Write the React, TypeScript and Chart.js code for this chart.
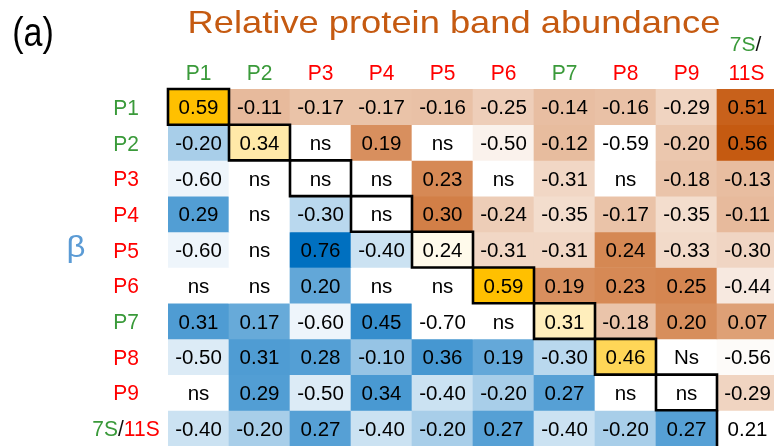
import React, { useEffect, useRef } from "react";
import { Chart, registerables } from "chart.js";

Chart.register(...registerables);

// ---- data ----
const columnLabels = ["P1", "P2", "P3", "P4", "P5", "P6", "P7", "P8", "P9", "7S/11S"];
const rowLabels = ["P1", "P2", "P3", "P4", "P5", "P6", "P7", "P8", "P9", "7S/11S"];
// label colour group: "g" green, "r" red, "m" mixed (7S green / 11S red)
const labelGroups = ["g", "g", "r", "r", "r", "r", "g", "r", "r", "m"];

const rowP1: (number | string)[] = [0.59, -0.11, -0.17, -0.17, -0.16, -0.25, -0.14, -0.16, -0.29, 0.51];
const rowP2: (number | string)[] = [-0.2, 0.34, "ns", 0.19, "ns", -0.5, -0.12, -0.59, -0.2, 0.56];
const rowP3: (number | string)[] = [-0.6, "ns", "ns", "ns", 0.23, "ns", -0.31, "ns", -0.18, -0.13];
const rowP4: (number | string)[] = [0.29, "ns", -0.3, "ns", 0.3, -0.24, -0.35, -0.17, -0.35, -0.11];
const rowP5: (number | string)[] = [-0.6, "ns", 0.76, -0.4, 0.24, -0.31, -0.31, 0.24, -0.33, -0.3];
const rowP6: (number | string)[] = ["ns", "ns", 0.2, "ns", "ns", 0.59, 0.19, 0.23, 0.25, -0.44];
const rowP7: (number | string)[] = [0.31, 0.17, -0.6, 0.45, -0.7, "ns", 0.31, -0.18, 0.2, 0.07];
const rowP8: (number | string)[] = [-0.5, 0.31, 0.28, -0.1, 0.36, 0.19, -0.3, 0.46, "Ns", -0.56];
const rowP9: (number | string)[] = ["ns", 0.29, -0.5, 0.34, -0.4, -0.2, 0.27, "ns", "ns", -0.29];
const row7S11S: (number | string)[] = [-0.4, -0.2, 0.27, -0.4, -0.2, 0.27, -0.4, -0.2, 0.27, 0.21];

const matrix = [rowP1, rowP2, rowP3, rowP4, rowP5, rowP6, rowP7, rowP8, rowP9, row7S11S];

const titleText = "Relative protein band abundance";
const panelText = "(a)";
const sideText = "β";

// ---- styles ----
const FONT = '"Liberation Sans", Arial, sans-serif';
const GREEN = "#3A9A3A";
const RED = "#FF0000";
const UPPER_COLOR = [197, 90, 17];
const LOWER_COLOR = [0, 112, 192];
const DIAG_COLOR = [255, 192, 0];

function mix(rgb: number[], t: number) {
  const k = Math.max(0, Math.min(1, t));
  const c = rgb.map((v) => Math.round(255 + (v - 255) * k));
  return `rgb(${c[0]},${c[1]},${c[2]})`;
}

function rangeOf(pred: (r: number, c: number) => boolean) {
  let mn = Infinity, mx = -Infinity;
  matrix.forEach((row, r) =>
    row.forEach((v, c) => {
      if (typeof v === "number" && pred(r, c)) {
        mn = Math.min(mn, v);
        mx = Math.max(mx, v);
      }
    })
  );
  return [mn, mx];
}

const upperRange = rangeOf((r, c) => c > r);
const lowerRange = rangeOf((r, c) => c < r);
const diagRange = rangeOf((r, c) => c === r);

function cellColor(r: number, c: number, v: number | string) {
  if (typeof v !== "number") return "#FFFFFF";
  let rng = diagRange, base = DIAG_COLOR;
  if (c > r) { rng = upperRange; base = UPPER_COLOR; }
  else if (c < r) { rng = lowerRange; base = LOWER_COLOR; }
  return mix(base, (v - rng[0]) / (rng[1] - rng[0]));
}

function fmt(v: number | string) {
  return typeof v === "number" ? v.toFixed(2) : v;
}

type Seg = { t: string; c: string };

function drawSegs(ctx: CanvasRenderingContext2D, segs: Seg[], cx: number, by: number, size: number, sx = 1, sy = 1) {
  ctx.save();
  ctx.font = `${size}px ${FONT}`;
  ctx.textAlign = "left";
  ctx.textBaseline = "alphabetic";
  const widths = segs.map((s) => ctx.measureText(s.t).width);
  const total = widths.reduce((a, b) => a + b, 0);
  ctx.translate(cx, by);
  ctx.scale(sx, sy);
  let x = -total / 2;
  segs.forEach((s, i) => {
    ctx.fillStyle = s.c;
    ctx.fillText(s.t, x, 0);
    x += widths[i];
  });
  ctx.restore();
}

function labelSegs(label: string, group: string): Seg[] {
  if (group === "m") {
    const [a, b] = label.split("/");
    return [{ t: a, c: GREEN }, { t: "/", c: "#111" }, { t: b, c: RED }];
  }
  return [{ t: label, c: group === "g" ? GREEN : RED }];
}

const heatPlugin = {
  id: "heatText",
  afterDatasetsDraw(chart: any) {
    const ctx: CanvasRenderingContext2D = chart.ctx;
    const xs = chart.scales.x;
    const ys = chart.scales.y;
    const half = (xs.getPixelForValue(1) - xs.getPixelForValue(0)) / 2;
    // cell values
    matrix.forEach((row, r) => {
      const cy = ys.getPixelForValue(r + 0.5);
      row.forEach((v, c) => {
        const cx = xs.getPixelForValue(c);
        drawSegs(ctx, [{ t: fmt(v), c: "#000" }], cx, cy + 7.5, 20.5);
      });
    });
    // diagonal staircase boxes
    ctx.save();
    ctx.strokeStyle = "#000";
    ctx.lineWidth = 2.6;
    for (let i = 0; i < matrix.length; i++) {
      const x0 = xs.getPixelForValue(i) - half;
      const x1 = xs.getPixelForValue(i) + half;
      const y0 = ys.getPixelForValue(i);
      const y1 = ys.getPixelForValue(i + 1);
      ctx.beginPath();
      if (i < matrix.length - 1) {
        ctx.rect(x0, y0, x1 - x0, y1 - y0);
      } else {
        ctx.moveTo(x0, y0);
        ctx.lineTo(x0, y1);
      }
      ctx.stroke();
    }
    ctx.restore();
    // column headers
    columnLabels.forEach((lab, c) => {
      const cx = xs.getPixelForValue(c);
      const g = labelGroups[c];
      if (g === "m") {
        const [a, b] = lab.split("/");
        drawSegs(ctx, [{ t: a, c: GREEN }, { t: "/", c: "#111" }], cx - 2, 51, 21);
        drawSegs(ctx, [{ t: b, c: RED }], cx - 1, 80, 21, 1, 1.06);
      } else {
        drawSegs(ctx, labelSegs(lab, g), cx, 80, 21, 1, 1.06);
      }
    });
    // row labels
    rowLabels.forEach((lab, r) => {
      const cy = ys.getPixelForValue(r + 0.5);
      drawSegs(ctx, labelSegs(lab, labelGroups[r]), 126, cy + 8, 21, 1, 1.08);
    });
    // title, panel letter, beta
    drawSegs(ctx, [{ t: titleText, c: "#C55A11" }], 454, 33, 30, 1.21, 1.02);
    drawSegs(ctx, [{ t: panelText, c: "#000" }], 33, 46, 40, 0.85, 1);
    const midY = ys.getPixelForValue(4.5);
    drawSegs(ctx, [{ t: sideText, c: "#5B9BD5" }], 76, midY + 7, 30, 1.1, 1);
  },
};

export default function App() {
  const ref = useRef<HTMLCanvasElement | null>(null);
  useEffect(() => {
    document.body.style.margin = "0";
    const canvas = ref.current!;
    const datasets = matrix.map((row, r) => ({
      label: rowLabels[r],
      data: row.map(() => [r, r + 1] as [number, number]),
      backgroundColor: row.map((v, c) => cellColor(r, c, v)),
      borderWidth: 0,
      barPercentage: 1,
      categoryPercentage: 1,
    }));
    const chart = new Chart(canvas, {
      type: "bar",
      data: { labels: columnLabels, datasets },
      options: {
        responsive: false,
        animation: false,
        devicePixelRatio: 1,
        layout: { padding: { left: 168, top: 89, right: 0, bottom: 0 } },
        plugins: { legend: { display: false }, tooltip: { enabled: false }, title: { display: false } },
        scales: {
          x: { type: "category", stacked: true, display: false },
          y: { type: "linear", min: 0, max: 10, reverse: true, display: false, stacked: false },
        },
      },
      plugins: [heatPlugin],
    });
    return () => chart.destroy();
  }, []);
  return (
    <div style={{ position: "fixed", left: 0, top: 0, width: 774, height: 446, overflow: "hidden", background: "#fff" }}>
      <canvas ref={ref} width={778} height={446} style={{ display: "block" }} />
    </div>
  );
}
